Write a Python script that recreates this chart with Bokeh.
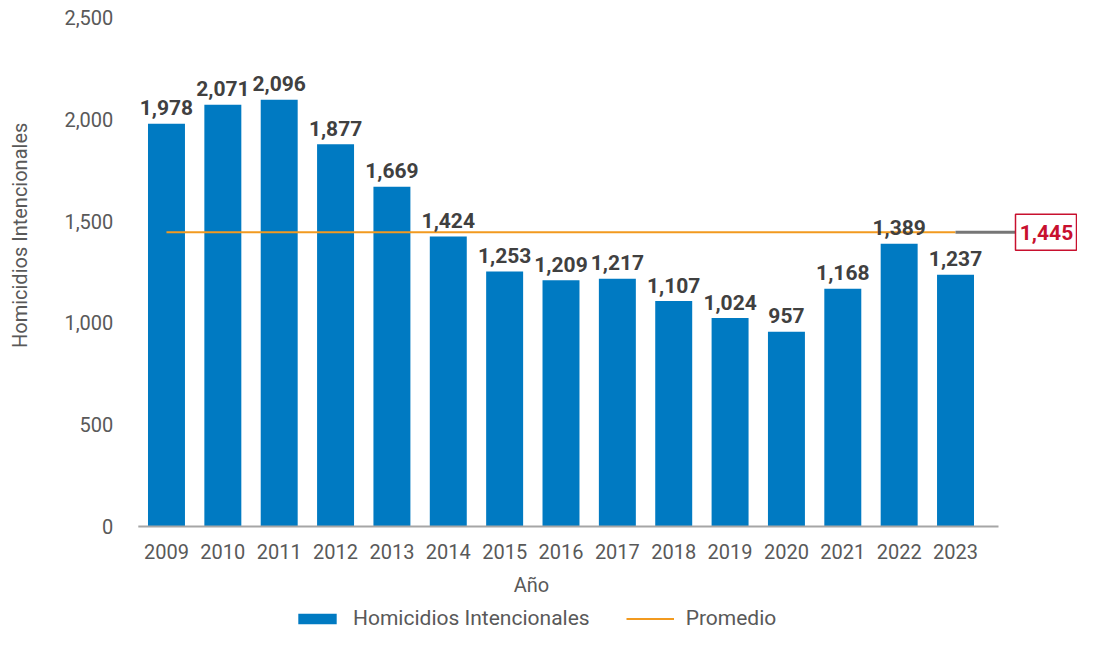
import math
from bokeh.plotting import figure
from bokeh.models import (FixedTicker, NumeralTickFormatter, Legend, LegendItem,
                          Label, Range1d, ColumnDataSource)
from bokeh.core.properties import value
from bokeh.embed import file_html
from bokeh.resources import INLINE

# ---- data ----
years = ["2009", "2010", "2011", "2012", "2013", "2014", "2015", "2016",
         "2017", "2018", "2019", "2020", "2021", "2022", "2023"]
homicidios = [1978, 2071, 2096, 1877, 1669, 1424, 1253, 1209, 1217, 1107,
              1024, 957, 1168, 1389, 1237]
promedio = 1445
y_ticks = [0, 500, 1000, 1500, 2000, 2500]
serie_barras = "Homicidios Intencionales"
serie_linea = "Promedio"
titulo_x = "Año"
titulo_y = "Homicidios Intencionales"

FONT = "Roboto"
BLUE = "#007AC2"
ORANGE = "#F29A1F"
GRAY_TXT = "#595959"
DARK_TXT = "#404040"
RED = "#C8102E"

W, H = 1077, 632
n = len(years)
idx = list(range(n))

# pixel geometry (frame = whole canvas)
left_px = 137.8          # left edge of first category
unit_px = 56.36          # width of one category
zero_px = 526.0          # y pixel of value 0 (from top)
px_per_val = 0.2036      # pixels per unit of value

x0 = -0.5 - left_px / unit_px
x1 = -0.5 + (W - left_px) / unit_px
y1 = zero_px / px_per_val
y0 = (zero_px - H) / px_per_val

src = ColumnDataSource(dict(x=idx, y=homicidios,
                            lbl=[f"{v:,}" for v in homicidios]))

p = figure(width=W, height=H, output_backend="svg", toolbar_location=None,
           x_range=Range1d(x0, x1), y_range=Range1d(y0, y1),
           min_border=0, min_border_left=0, min_border_right=0,
           min_border_top=0, min_border_bottom=0)
p.outline_line_color = None
p.xgrid.visible = False
p.ygrid.visible = False

bars = p.vbar(x="x", top="y", width=0.656, source=src, color=BLUE, line_color=None)

# baseline of x axis
axis_end = -0.5 + (998 - left_px) / unit_px
p.segment(x0=[-0.5], y0=[0], x1=[axis_end], y1=[0], line_color="#A6A6A6",
          line_width=2)

avg_line = p.line(x=[idx[0], idx[-1]], y=[promedio, promedio], line_color=ORANGE,
                  line_width=2)

p.text(x="x", y="y", text="lbl", source=src, text_align="center",
       text_baseline="alphabetic", y_offset=-16, text_font=value(FONT),
       text_font_style="bold", text_font_size="21px", text_color=DARK_TXT)

# connector + average value box
box_left = x1 - 62 / unit_px
p.segment(x0=[idx[-1]], y0=[promedio], x1=[box_left], y1=[promedio],
          line_color="#767676", line_width=3)
p.rect(x=[(box_left + x1) / 2 - 0.5 / unit_px], y=[promedio], width=[61],
       height=[36], width_units="screen", height_units="screen",
       fill_color="white", line_color=RED, line_width=1.5)
p.text(x=[(box_left + x1) / 2], y=[promedio], text=[f"{promedio:,}"],
       text_align="center", text_baseline="middle", text_font=value(FONT),
       text_font_style="bold", text_font_size="21px", text_color=RED)

# axes placed inside the frame
p.xaxis.fixed_location = 0
p.xaxis.ticker = FixedTicker(ticks=idx)
p.xaxis.major_label_overrides = {i: y for i, y in enumerate(years)}
p.xaxis.axis_line_color = None
p.xaxis.major_tick_line_color = None
p.xaxis.minor_tick_line_color = None
p.xaxis.major_label_standoff = 11
p.xaxis.major_label_text_font = FONT
p.xaxis.major_label_text_font_size = "20px"
p.xaxis.major_label_text_color = GRAY_TXT

p.yaxis.fixed_location = -0.5
p.yaxis.ticker = FixedTicker(ticks=y_ticks)
p.yaxis.formatter = NumeralTickFormatter(format="0,0")
p.yaxis.axis_line_color = None
p.yaxis.major_tick_line_color = None
p.yaxis.minor_tick_line_color = None
p.yaxis.major_label_standoff = 19
p.yaxis.major_label_text_font = FONT
p.yaxis.major_label_text_font_size = "20px"
p.yaxis.major_label_text_color = GRAY_TXT

# axis titles
p.add_layout(Label(x=-0.5 + (531 - left_px) / unit_px, y=-285, text=titulo_x,
                   text_align="center", text_baseline="middle", text_font=FONT,
                   text_font_size="20px", text_color=GRAY_TXT))
p.add_layout(Label(x=-0.5 - (left_px - 19) / unit_px, y=1430, text=titulo_y,
                   text_align="center", text_baseline="middle", angle=math.pi / 2,
                   text_font=FONT, text_font_size="20px", text_color=GRAY_TXT))

legend = Legend(items=[LegendItem(label=serie_barras, renderers=[bars]),
                       LegendItem(label=serie_linea, renderers=[avg_line])],
                orientation="horizontal", location=(293, 2),
                glyph_width=48, glyph_height=13, label_standoff=12, spacing=36,
                padding=0, margin=0, border_line_color=None,
                background_fill_alpha=0, label_text_font=FONT,
                label_text_font_size="21px", label_text_color=GRAY_TXT,
                label_height=22)
p.add_layout(legend)

open("out.html", "w").write(file_html(p, INLINE))
